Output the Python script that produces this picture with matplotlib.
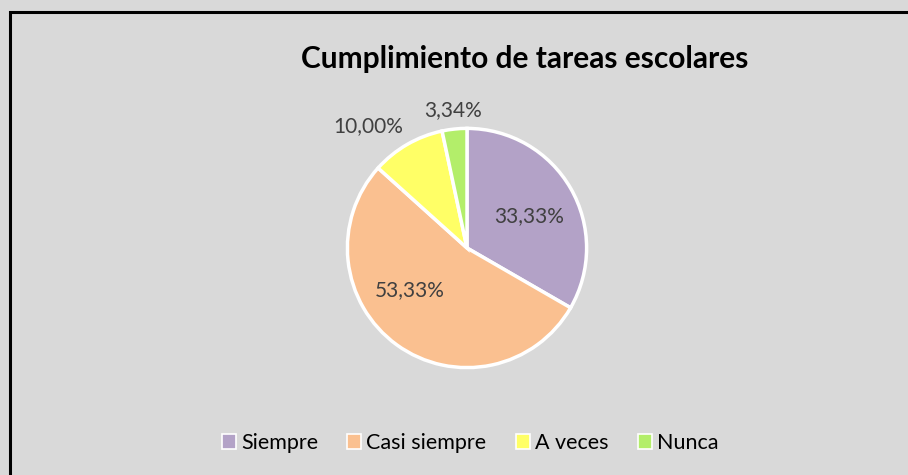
import matplotlib
matplotlib.use("Agg")
import matplotlib.pyplot as plt
from matplotlib.patches import Rectangle
import numpy as np

categories = ["Siempre", "Casi siempre", "A veces", "Nunca"]
values = [33.33, 53.33, 10.00, 3.34]
labels = ["33,33%", "53,33%", "10,00%", "3,34%"]
colors = ["#B3A2C7", "#FAC090", "#FFFF66", "#B3EE6A"]

W, H = 908, 475
fig = plt.figure(figsize=(W / 100, H / 100), dpi=100)
fig.patch.set_facecolor("#D9D9D9")

# outer frame (chart border)
fig.patches.append(Rectangle((9.5 / W, -0.5), 2, (H - 12.5) / H + 0.5, transform=fig.transFigure,
                             fill=False, edgecolor="black", linewidth=2.2, zorder=10))

cx, cy, r = 467, 248, 122
ax = fig.add_axes([(cx - r) / W, (H - cy - r) / H, 2 * r / W, 2 * r / H])
ax.set_facecolor("none")
wedges, _ = ax.pie(values, colors=colors, startangle=90, counterclock=False,
                   radius=1, wedgeprops=dict(edgecolor="white", linewidth=2.5))
ax.set_xlim(-1.02, 1.02)
ax.set_ylim(-1.02, 1.02)
ax.set_aspect("equal")
ax.axis("off")

# label positions (relative to pie, in radius units)
label_pos = [(0.52, 0.265), (-0.475, -0.355), (-0.83, 1.02), (-0.12, 1.15)]
for lab, (x, y) in zip(labels, label_pos):
    ax.text(x, y, lab, ha="center", va="center", fontsize=15,
            color="#404040", family="Lato", clip_on=False)

fig.text(525 / W, 1 - 59 / H, "Cumplimiento de tareas escolares", ha="center", va="center",
         fontsize=21.5, fontweight="bold", family="Lato", color="black")

handles = [Rectangle((0, 0), 1, 1, facecolor=c, edgecolor="white", linewidth=1.2) for c in colors]
leg = fig.legend(handles, categories, loc="center", bbox_to_anchor=(470 / W, 1 - 443 / H),
                 ncol=4, frameon=False, prop=dict(family="Lato", size=15.5),
                 handlelength=0.65, handleheight=0.65, handletextpad=0.25, columnspacing=1.35)

fig.savefig("out.png", dpi=100, facecolor=fig.get_facecolor())
